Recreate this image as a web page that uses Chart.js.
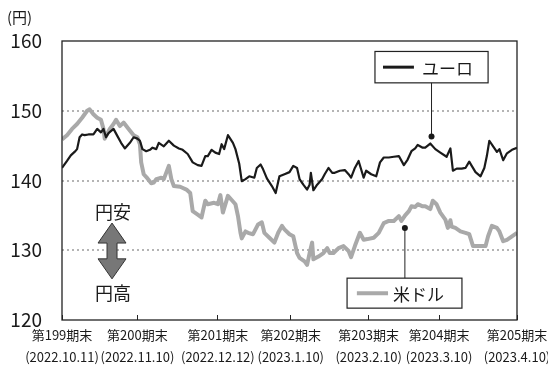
<!DOCTYPE html>
<html><head><meta charset="utf-8">
<script src="https://cdn.jsdelivr.net/npm/chart.js@4/dist/chart.umd.min.js"></script>
<style>html,body{margin:0;padding:0;background:#fff}#wrap{width:548px;height:369px}</style>
</head><body><div id="wrap"><canvas id="c" width="548" height="369"></canvas></div>
<script>
// x values are calendar days counted from 2022-10-11
const tickDays  = [0, 30, 62, 91, 122, 150, 181];
const tickTerms = ['第199期末','第200期末','第201期末','第202期末','第203期末','第204期末','第205期末'];
const tickDates = ['(2022.10.11)','(2022.11.10)','(2022.12.12)','(2023.1.10)','(2023.2.10)','(2023.3.10)','(2023.4.10)'];
const yMin = 120, yMax = 160, yStep = 10;

const eurDays = [0,2,3.5,5,6,7,8,9,10.5,12.5,14,15.5,16.5,17.5,18.5,20.5,22,23.5,25,27,28.5,30,31,32,33.5,35,36,37.5,38.5,40.5,42.5,44.5,46.5,48,50,52,54,55.5,57,58,59.5,61,62.5,63.5,64.5,66,68,69,70.5,71.5,73,74.5,76.5,77.5,79,80,81.5,83.5,85,86.5,88.5,90.5,92,93.5,94.5,96,97.5,98.5,99,100,101.5,103.5,104.5,106,107.5,108.5,110.5,112.5,114,115,116.5,118,120,121,123,125,126.5,128,130,132,134,136,137.5,139,140.5,141.5,143.5,144.5,146.5,148.5,150.5,153,154.5,155.5,157,159,160.5,162,163,164.5,166.5,168,169,170,171.5,173,174,175.5,177,179,181];
const eurVals = [141.8,142.8,143.6,144.1,144.5,146.2,146.6,146.5,146.6,146.6,147.4,146.9,147.4,146.2,146.8,147.4,146.4,145.4,144.6,145.4,146.2,146.0,145.7,144.5,144.2,144.4,144.7,144.5,145.4,144.9,145.7,145.0,144.6,144.4,143.8,142.6,142.2,142.1,143.5,143.5,144.4,144.0,143.8,145.2,144.5,146.5,145.4,144.5,142.4,139.9,140.2,140.6,140.4,141.8,142.3,141.6,140.3,139.2,138.2,140.6,140.9,141.2,142.1,141.8,140.2,139.4,138.7,139.4,141.1,138.6,139.4,140.2,140.9,141.8,141.1,141.1,141.4,141.5,140.9,140.4,141.8,142.8,140.4,141.4,140.9,140.6,142.6,143.3,143.3,143.4,143.5,142.2,143.0,144.2,144.6,145.1,144.7,144.7,145.3,144.5,144.0,143.4,144.6,141.4,141.7,141.7,141.8,142.7,142.1,141.2,140.6,141.8,143.5,145.7,144.9,144.1,144.5,142.9,143.9,144.4,144.7];

const usdDays = [0,2,4,6,8,10,11,12.5,14,15.5,16.5,17,19,20.5,21.5,23,24.5,26.5,28.5,30,31,31.5,32.5,34,35.5,36.5,37.5,39.5,40.5,42.5,43.5,44.5,47,49.5,51,52,54,55.5,57,58,60.5,62,63,64,66,67.5,69,70,71,71.5,73,74,76,78,79.5,80.5,82.5,84.5,86,87.5,88.5,90.5,92,93.5,94.5,96.5,97.5,98.5,99.5,100,102,104,105.5,106.5,108,110,112,114,115,116.5,118.5,120,121.5,124,126,128,130,132,134,135,136.5,138,139,140.5,141.5,143.5,144.5,146.5,147.5,149,150.5,152.5,153.5,154.5,155,156.5,158.5,160.5,162,163.5,166.5,168.5,169.5,171,173,174,175.5,177,179,181];
const usdVals = [145.9,146.5,147.4,148.1,149.0,150.0,150.2,149.5,149.0,148.7,147.4,146.0,147.4,148.1,148.7,147.8,148.3,147.4,146.5,146.2,145.2,142.6,140.9,140.3,139.6,139.7,140.2,140.4,140.2,142.1,140.2,139.2,139.1,138.7,138.2,135.6,135.1,134.7,137.1,136.6,136.8,136.6,137.9,135.4,137.8,137.2,136.6,134.9,132.5,131.7,132.7,132.5,132.3,133.7,134.0,132.5,131.8,131.1,132.5,133.5,133.0,132.3,132.0,129.6,128.9,128.4,127.9,129.6,131.1,128.7,129.1,129.6,130.3,129.6,129.6,130.3,130.6,129.9,129.0,130.6,132.5,131.5,131.6,131.8,132.5,133.9,134.2,134.2,134.9,134.2,135.0,135.6,136.3,136.2,136.6,136.3,136.3,135.9,137.1,136.6,135.4,134.4,133.2,134.3,133.4,133.2,132.7,132.5,132.3,130.6,130.6,130.6,132.0,133.5,133.2,132.7,131.3,131.5,132.0,132.5];

const eurLabel = 'ユーロ', usdLabel = '米ドル';
const unitLabel = '(円)', weakLabel = '円安', strongLabel = '円高';
const eurColor = '#1a1a1a', usdColor = '#a9a9a9';

const FONT = '"Noto Sans CJK JP", "Noto Sans", sans-serif';

const annot = {
  id: 'annot',
  afterDraw(chart) {
    const {ctx, chartArea: a, scales: {x, y}} = chart;
    const X = d => x.getPixelForValue(d), Y = v => y.getPixelForValue(v);
    ctx.save();
    // frame
    ctx.strokeStyle = '#222'; ctx.lineWidth = 1.3;
    ctx.strokeRect(a.left, a.top, a.right - a.left, a.bottom - a.top);
    // unit label
    ctx.fillStyle = '#1a1a1a';
    ctx.font = '15px ' + FONT; ctx.textBaseline = 'middle'; ctx.textAlign = 'left';
    ctx.fillText(unitLabel, 7, a.top - 24);

    function box(d0, d1, v0, v1, lineColor, lw, lx0, lx1, tx, label, leadX, leadV, leadFrom) {
      ctx.fillStyle = '#fff'; ctx.strokeStyle = '#222'; ctx.lineWidth = 1.2;
      const bx = X(d0), by = Y(v0), bw = X(d1) - bx, bh = Y(v1) - by;
      ctx.fillRect(bx, by, bw, bh); ctx.strokeRect(bx, by, bw, bh);
      const my = by + bh / 2;
      ctx.strokeStyle = lineColor; ctx.lineWidth = lw; ctx.lineCap = 'butt';
      ctx.beginPath(); ctx.moveTo(X(lx0), my); ctx.lineTo(X(lx1), my); ctx.stroke();
      ctx.fillStyle = '#1a1a1a'; ctx.font = '17px ' + FONT;
      ctx.textAlign = 'left'; ctx.textBaseline = 'middle';
      ctx.fillText(label, X(tx), my + 1);
      // leader
      ctx.strokeStyle = '#222'; ctx.lineWidth = 1;
      ctx.beginPath(); ctx.moveTo(X(leadX), Y(leadFrom)); ctx.lineTo(X(leadX), Y(leadV)); ctx.stroke();
      ctx.fillStyle = '#1a1a1a';
      ctx.beginPath(); ctx.arc(X(leadX), Y(leadV), 3, 0, Math.PI * 2); ctx.fill();
    }
    box(124.5, 169.5, 158.5, 154.0, eurColor, 3, 127.7, 140.0, 143.2, eurLabel, 147.0, 146.3, 154.0);
    box(113.4, 159.1, 126.0, 121.7, usdColor, 4, 117.3, 129.7, 131.7, usdLabel, 136.4, 133.2, 126.0);

    // yen arrow
    const cx = X(19.9), t = Y(133.9), b = Y(125.9), hh = 20, hw = 14, sw = 5;
    ctx.beginPath();
    ctx.moveTo(cx, t);
    ctx.lineTo(cx + hw, t + hh); ctx.lineTo(cx + sw, t + hh);
    ctx.lineTo(cx + sw, b - hh); ctx.lineTo(cx + hw, b - hh);
    ctx.lineTo(cx, b);
    ctx.lineTo(cx - hw, b - hh); ctx.lineTo(cx - sw, b - hh);
    ctx.lineTo(cx - sw, t + hh); ctx.lineTo(cx - hw, t + hh);
    ctx.closePath();
    ctx.fillStyle = '#777'; ctx.fill();
    ctx.strokeStyle = '#333'; ctx.lineWidth = 1; ctx.stroke();
    ctx.fillStyle = '#1a1a1a'; ctx.font = '18px ' + FONT;
    ctx.textAlign = 'center'; ctx.textBaseline = 'middle';
    ctx.fillText(weakLabel, cx + 1, Y(135.4));
    ctx.fillText(strongLabel, cx + 1, Y(123.9));
    ctx.restore();
  }
};

new Chart(document.getElementById('c'), {
  type: 'line',
  data: {
    datasets: [
      { label: eurLabel, data: eurDays.map((d, i) => ({x: d, y: eurVals[i]})),
        borderColor: eurColor, borderWidth: 2.2, pointRadius: 0, tension: 0, borderJoinStyle: 'round' },
      { label: usdLabel, data: usdDays.map((d, i) => ({x: d, y: usdVals[i]})),
        borderColor: usdColor, borderWidth: 4, pointRadius: 0, tension: 0, borderJoinStyle: 'round' }
    ]
  },
  options: {
    responsive: false, animation: false, devicePixelRatio: 1,
    layout: { padding: { left: 0, right: 31, top: 41, bottom: 0 } },
    plugins: { legend: { display: false }, tooltip: { enabled: false } },
    scales: {
      x: {
        type: 'linear', min: tickDays[0], max: tickDays[tickDays.length - 1],
        afterBuildTicks: s => { s.ticks = tickDays.map(v => ({value: v})); },
        afterFit: s => { s.height = 49; s.paddingLeft = 0; s.paddingRight = 0; },
        grid: { drawOnChartArea: false, drawTicks: true, tickLength: -5, color: '#222', lineWidth: 1 },
        border: { display: false },
        ticks: {
          autoSkip: false, maxRotation: 0, padding: 9,
          font: { family: FONT, size: 13, lineHeight: 1.7 }, color: '#1a1a1a',
          callback: v => { const i = tickDays.indexOf(v); return i < 0 ? '' : [tickTerms[i], tickDates[i]]; }
        }
      },
      y: {
        min: yMin, max: yMax,
        afterFit: s => { s.width = 62; },
        grid: {
          drawTicks: false, lineWidth: 2,
          color: c => (c.tick.value === yMin || c.tick.value === yMax) ? 'rgba(0,0,0,0)' : '#b4b4b4'
        },
        border: { display: false, dash: [2, 3] },
        ticks: { stepSize: yStep, padding: 20, font: { family: FONT, size: 19 }, color: '#1a1a1a' }
      }
    }
  },
  plugins: [annot]
});
</script></body></html>
